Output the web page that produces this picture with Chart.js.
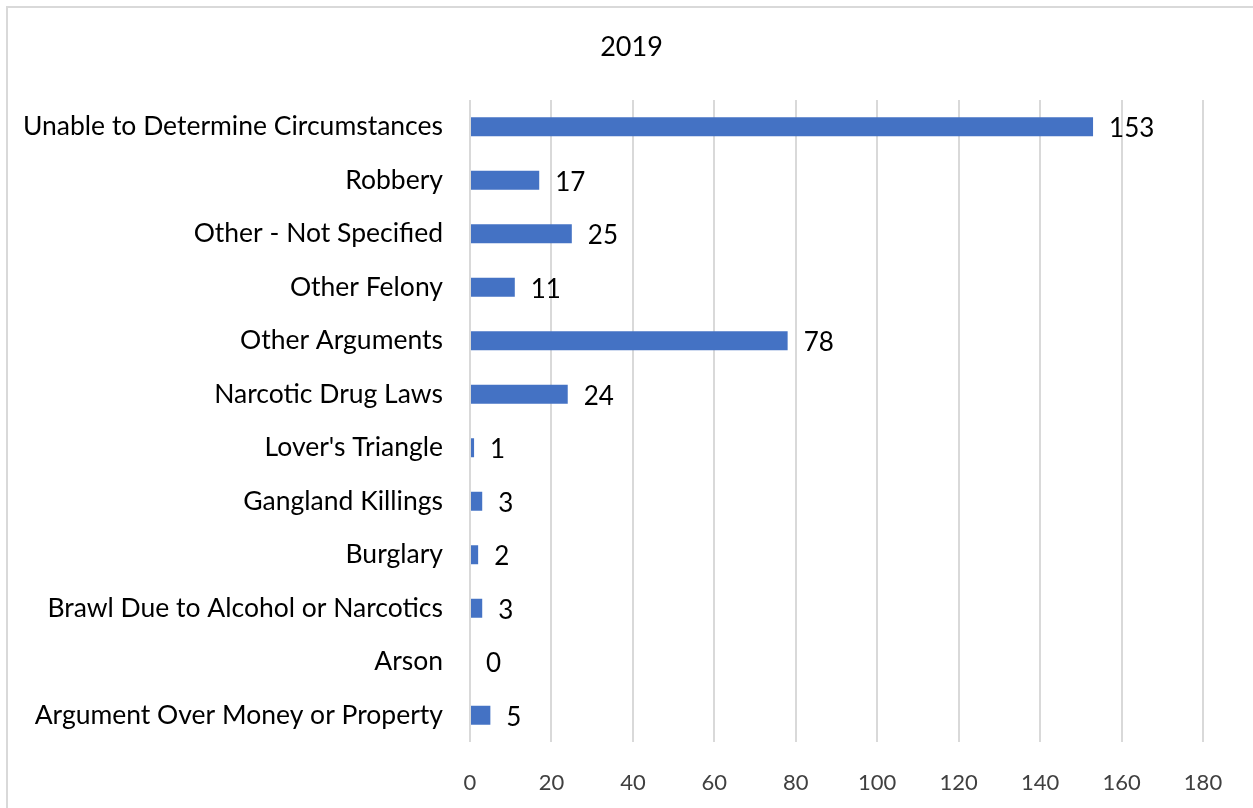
<!DOCTYPE html>
<html>
<head>
<meta charset="utf-8">
<script src="https://cdn.jsdelivr.net/npm/chart.js@4"></script>
<style>
  html, body { margin: 0; padding: 0; background: #ffffff; overflow: hidden; }
  #frame { position: absolute; left: 6px; top: 6px; width: 1400px; height: 1000px;
           border-left: 2px solid #d9d9d9; border-top: 2px solid #d9d9d9; }
  #wrap { position: absolute; left: 8px; top: 0; width: 1247px; height: 808px; }
</style>
</head>
<body>
<div id="frame"></div>
<div id="wrap"><canvas id="c" width="1247" height="808"></canvas></div>
<script>
const titleText = "2019";
const categories = [
  "Unable to Determine Circumstances",
  "Robbery",
  "Other - Not Specified",
  "Other Felony",
  "Other Arguments",
  "Narcotic Drug Laws",
  "Lover's Triangle",
  "Gangland Killings",
  "Burglary",
  "Brawl Due to Alcohol or Narcotics",
  "Arson",
  "Argument Over Money or Property"
];
const values = [153, 17, 25, 11, 78, 24, 1, 3, 2, 3, 0, 5];
const axisMin = 0;
const axisMax = 180;
const axisStep = 20;

const FONT = "Lato, 'Open Sans', sans-serif";

const valueLabels = {
  id: 'valueLabels',
  afterDatasetsDraw(chart) {
    const ctx = chart.ctx;
    const meta = chart.getDatasetMeta(0);
    ctx.save();
    ctx.font = "26px " + FONT;
    ctx.fillStyle = "#000000";
    ctx.textAlign = "left";
    ctx.textBaseline = "middle";
    meta.data.forEach((bar, i) => {
      ctx.fillText(String(values[i]), bar.x + 16, bar.y + 2);
    });
    ctx.restore();
  }
};

const centeredTitle = {
  id: 'centeredTitle',
  afterDraw(chart) {
    const ctx = chart.ctx;
    ctx.save();
    ctx.font = "27px " + FONT;
    ctx.fillStyle = "#000000";
    ctx.textAlign = "center";
    ctx.textBaseline = "middle";
    ctx.fillText(titleText, chart.width / 2, 47);
    ctx.restore();
  }
};

new Chart(document.getElementById('c'), {
  type: 'bar',
  data: {
    labels: categories,
    datasets: [{
      data: values,
      backgroundColor: '#4472C4',
      borderWidth: 0,
      categoryPercentage: 1,
      barPercentage: 0.355
    }]
  },
  options: {
    indexAxis: 'y',
    responsive: false,
    animation: false,
    events: [],
    layout: { padding: { left: 0, right: 52, top: 100, bottom: 0 } },
    plugins: {
      legend: { display: false },
      tooltip: { enabled: false },
      title: { display: false }
    },
    scales: {
      x: {
        min: axisMin,
        max: axisMax,
        ticks: {
          stepSize: axisStep,
          color: '#404040',
          font: { family: FONT, size: 22 },
          padding: 28
        },
        grid: { color: '#d9d9d9', lineWidth: 2, drawTicks: false },
        border: { display: false },
        afterFit(scale) { scale.height = 66; }
      },
      y: {
        ticks: {
          color: '#000000',
          font: { family: FONT, size: 26.5 },
          padding: 27,
          autoSkip: false
        },
        grid: { display: false, drawTicks: false },
        border: { display: false },
        afterFit(scale) { scale.width = 462; }
      }
    }
  },
  plugins: [valueLabels, centeredTitle]
});
</script>
</body>
</html>
